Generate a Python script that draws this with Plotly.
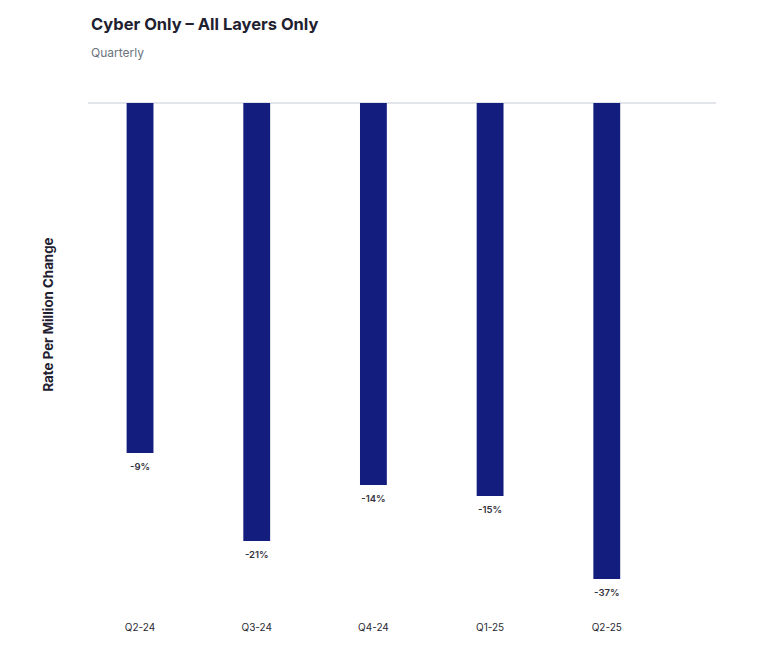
import plotly.graph_objects as go

quarters = ["Q2-24", "Q3-24", "Q4-24", "Q1-25", "Q2-25"]
rate_change = [-3.50, -4.38, -3.82, -3.93, -4.76]
pct_labels = ["-9%", "-21%", "-14%", "-15%", "-37%"]

label_gap = 0.15  # distance of the label below the bar end, in axis units
label_y = [v - label_gap for v in rate_change]

fig = go.Figure()
fig.add_trace(
    go.Bar(
        x=quarters,
        y=rate_change,
        marker=dict(color="#121d7e", line=dict(width=0)),
        width=0.23,
        hovertext=pct_labels,
        hoverinfo="x+text",
    )
)
fig.add_trace(
    go.Scatter(
        x=quarters,
        y=label_y,
        mode="text",
        text=pct_labels,
        textposition="middle center",
        textfont=dict(family="Inter, Arial, sans-serif", size=9.5, color="#33333d", weight=600),
        cliponaxis=False,
        hoverinfo="skip",
    )
)

fig.update_layout(
    width=759,
    height=654,
    paper_bgcolor="white",
    plot_bgcolor="white",
    margin=dict(l=80, r=51, t=95, b=48),
    showlegend=False,
    font=dict(family="Inter, Arial, sans-serif", color="#2a2a35"),
    xaxis=dict(
        type="category",
        range=[-0.446, 4.936],
        showgrid=False,
        showline=False,
        ticks="",
        ticklabelstandoff=6,
        tickfont=dict(size=10, color="#2a2a35"),
        zeroline=False,
    ),
    yaxis=dict(
        range=[-5.11, 0],
        showgrid=False,
        showticklabels=False,
        ticks="",
        zeroline=True,
        zerolinecolor="#e2e5e9",
        zerolinewidth=1.5,
        showline=False,
    ),
    annotations=[
        dict(
            text="<b>Cyber Only – All Layers Only</b>",
            xref="paper", yref="paper",
            x=0, xshift=1, y=1.0, yshift=79, xanchor="left", yanchor="middle",
            showarrow=False,
            font=dict(size=16.5, color="#1f2130"),
        ),
        dict(
            text="Quarterly",
            xref="paper", yref="paper",
            x=0, xshift=1, y=1.0, yshift=51, xanchor="left", yanchor="middle",
            showarrow=False,
            font=dict(size=12, color="#6b7280"),
        ),
        dict(
            text="<b>Rate Per Million Change</b>",
            xref="paper", yref="paper",
            x=0, xshift=-40, y=0.586, xanchor="center", yanchor="middle",
            textangle=-90,
            showarrow=False,
            font=dict(size=13.3, color="#1f2130"),
        ),
    ],
)

fig.write_html("out.html")
